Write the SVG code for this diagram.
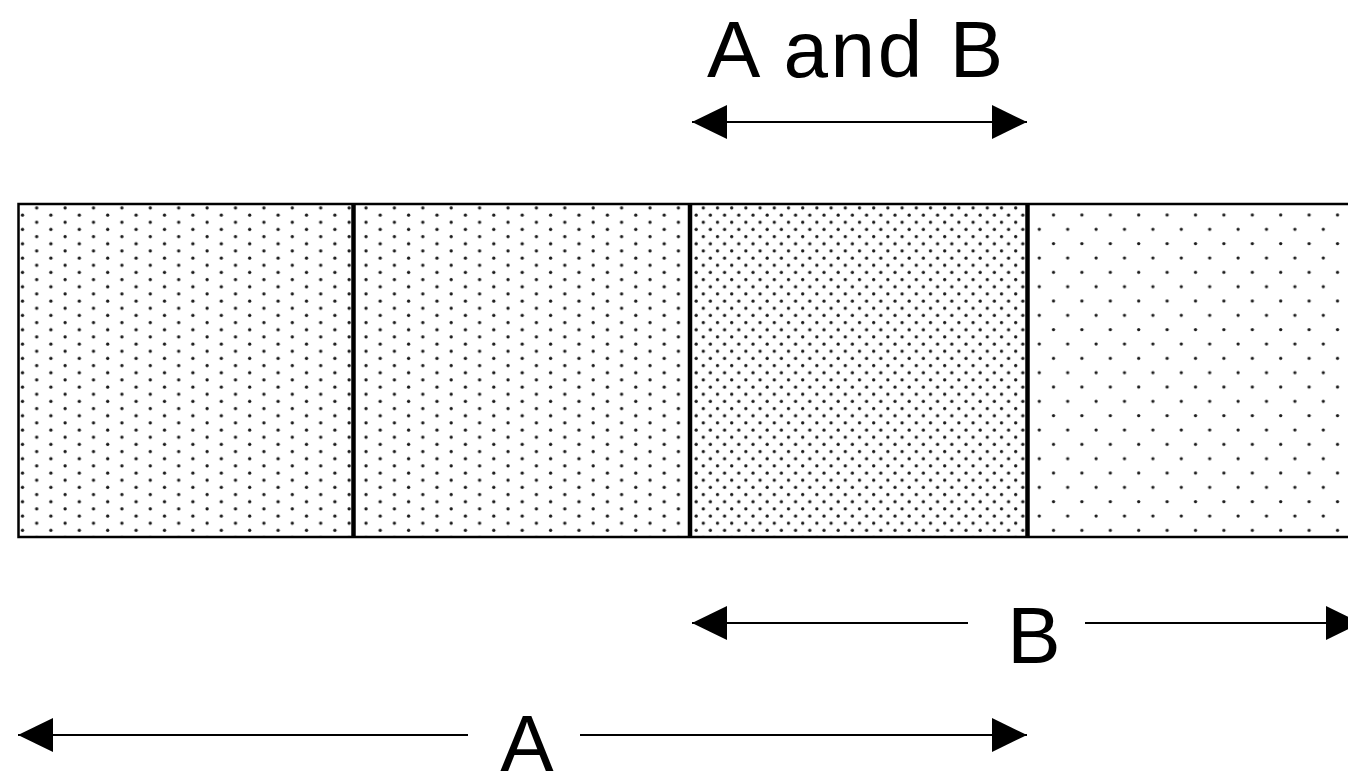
<svg xmlns="http://www.w3.org/2000/svg" width="1348" height="779" viewBox="0 0 1348 779">
  <style>
    .lbl { font-family: "Liberation Sans", Arial, sans-serif; font-size: 80px; fill: #000; }
    .dot { fill: #1a1a1a; }
    .frame { fill: none; stroke: #000; stroke-width: 2.5; }
    .divider { stroke: #000; stroke-width: 4.5; }
    .dim { stroke: #000; stroke-width: 2.2; fill: none; }
  </style>
  <defs>
    <pattern id="patA1" patternUnits="userSpaceOnUse" x="29.7" y="218.7" width="28.4" height="14.33">
      <circle class="dot" cx="7" cy="3.6" r="1.65"/>
      <circle class="dot" cx="21.2" cy="10.77" r="1.65"/>
    </pattern>
    <pattern id="patA2" patternUnits="userSpaceOnUse" x="359" y="218.7" width="28.4" height="14.33">
      <circle class="dot" cx="7" cy="3.6" r="1.65"/>
      <circle class="dot" cx="21.2" cy="10.77" r="1.65"/>
    </pattern>
    <pattern id="patAB" patternUnits="userSpaceOnUse" x="699.8" y="218.7" width="14.2" height="14.33">
      <circle class="dot" cx="3.5" cy="3.6" r="1.65"/>
      <circle class="dot" cx="10.6" cy="10.77" r="1.65"/>
    </pattern>
    <pattern id="patB" patternUnits="userSpaceOnUse" x="1032.3" y="222.3" width="28.4" height="28.67">
      <circle class="dot" cx="7" cy="7" r="1.65"/>
      <circle class="dot" cx="21.2" cy="21.33" r="1.65"/>
    </pattern>
    <marker id="head" viewBox="0 -17 35 34" refX="35" refY="0" markerWidth="35" markerHeight="34" markerUnits="userSpaceOnUse" orient="auto-start-reverse">
      <path d="M0,-17 L35,0 L0,17 Z" fill="#000"/>
    </marker>
  </defs>
  <rect width="1348" height="779" fill="#fff"/>

  <g id="bar">
    <g id="box-a1">
      <rect x="18.5" y="204" width="335" height="333" fill="url(#patA1)"/>
    </g>
    <g id="box-a2">
      <rect x="353.5" y="204" width="336.5" height="333" fill="url(#patA2)"/>
    </g>
    <g id="box-ab">
      <rect x="690" y="204" width="337.5" height="333" fill="url(#patAB)"/>
    </g>
    <g id="box-b">
      <rect x="1027.5" y="204" width="330" height="333" fill="url(#patB)"/>
    </g>
    <rect class="frame" x="18.5" y="204" width="1340" height="333"/>
    <line class="divider" x1="353.5" y1="204" x2="353.5" y2="537"/>
    <line class="divider" x1="690" y1="204" x2="690" y2="537"/>
    <line class="divider" x1="1027.5" y1="204" x2="1027.5" y2="537"/>
  </g>

  <g id="connectors">
    <line class="dim" x1="692" y1="122" x2="1027" y2="122" marker-start="url(#head)" marker-end="url(#head)"/>
    <line class="dim" x1="692" y1="623" x2="968" y2="623" marker-start="url(#head)"/>
    <line class="dim" x1="1085" y1="623" x2="1361" y2="623" marker-end="url(#head)"/>
    <line class="dim" x1="18" y1="735" x2="468" y2="735" marker-start="url(#head)"/>
    <line class="dim" x1="580" y1="735" x2="1027" y2="735" marker-end="url(#head)"/>
  </g>

  <g id="labels">
    <text class="lbl" x="855" y="77" text-anchor="middle" textLength="296" lengthAdjust="spacing">A and B</text>
    <text class="lbl" x="1034" y="663" text-anchor="middle">B</text>
    <text class="lbl" x="527" y="771" text-anchor="middle">A</text>
  </g>
</svg>
